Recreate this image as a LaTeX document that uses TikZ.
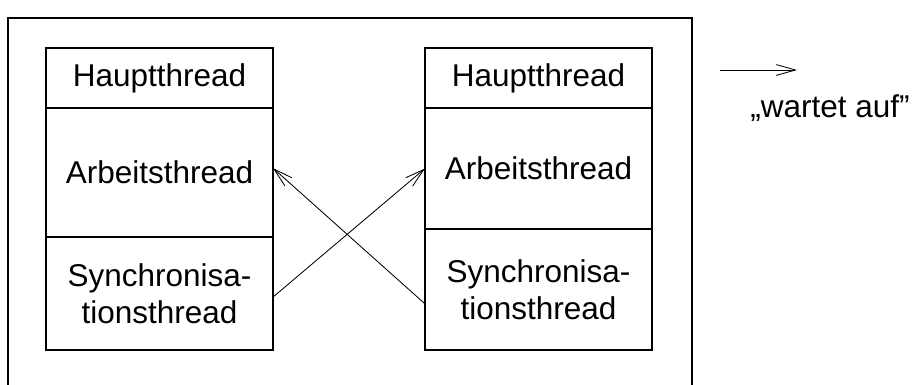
\documentclass[tikz,border=0pt]{standalone}
\usepackage{fontspec}
\setmainfont{Liberation Sans}
\usetikzlibrary{arrows.meta}

\tikzset{
  part/.style={draw, line width=0.9pt, outer sep=0pt, minimum width=5.675cm,
    align=center, font=\fontsize{22.4}{26}\selectfont},
  waits/.style={-{Straight Barb[length=4.8mm,width=2.7mm]}, line width=0.6pt}
}

\begin{document}
\begin{tikzpicture}

  \useasboundingbox (0,0) rectangle (22.8,9.625);

  % Outer frame, open at the bottom.
  \draw[line width=1pt] (0.2,0) -- (0.2,9.175) -- (17.3,9.175) -- (17.3,0);

  % Left process.
  \node[part, minimum height=1.5cm]   (haupt1) at (3.9875,7.675)  {Hauptthread};
  \node[part, minimum height=3.225cm] (arb1)   at (3.9875,5.3125) {Arbeitsthread};
  \node[part, minimum height=2.825cm] (sync1)  at (3.9875,2.2875) {Synchronisa-\\tionsthread};

  % Right process.
  \node[part, minimum height=1.5cm]   (haupt2) at (13.4625,7.675)  {Hauptthread};
  \node[part, minimum height=3.025cm] (arb2)   at (13.4625,5.4125) {Arbeitsthread};
  \node[part, minimum height=3.025cm] (sync2)  at (13.4625,2.3875) {Synchronisa-\\tionsthread};

  % Waiting relations.
  \draw[waits] ([yshift=-0.09cm]sync1.east) -- (arb2.west);
  \draw[waits] ([yshift=-0.36cm]sync2.west) -- ([yshift=0.11cm]arb1.east);

  % Legend.
  \coordinate (legstart) at (18.0,7.875);
  \coordinate (legend) at (19.925,7.875);
  \draw[waits] (legstart) -- (legend);
  \node[font=\fontsize{22.4}{26}\selectfont] (legtext) at (20.75,6.925) {,,wartet auf''};

\end{tikzpicture}
\end{document}
